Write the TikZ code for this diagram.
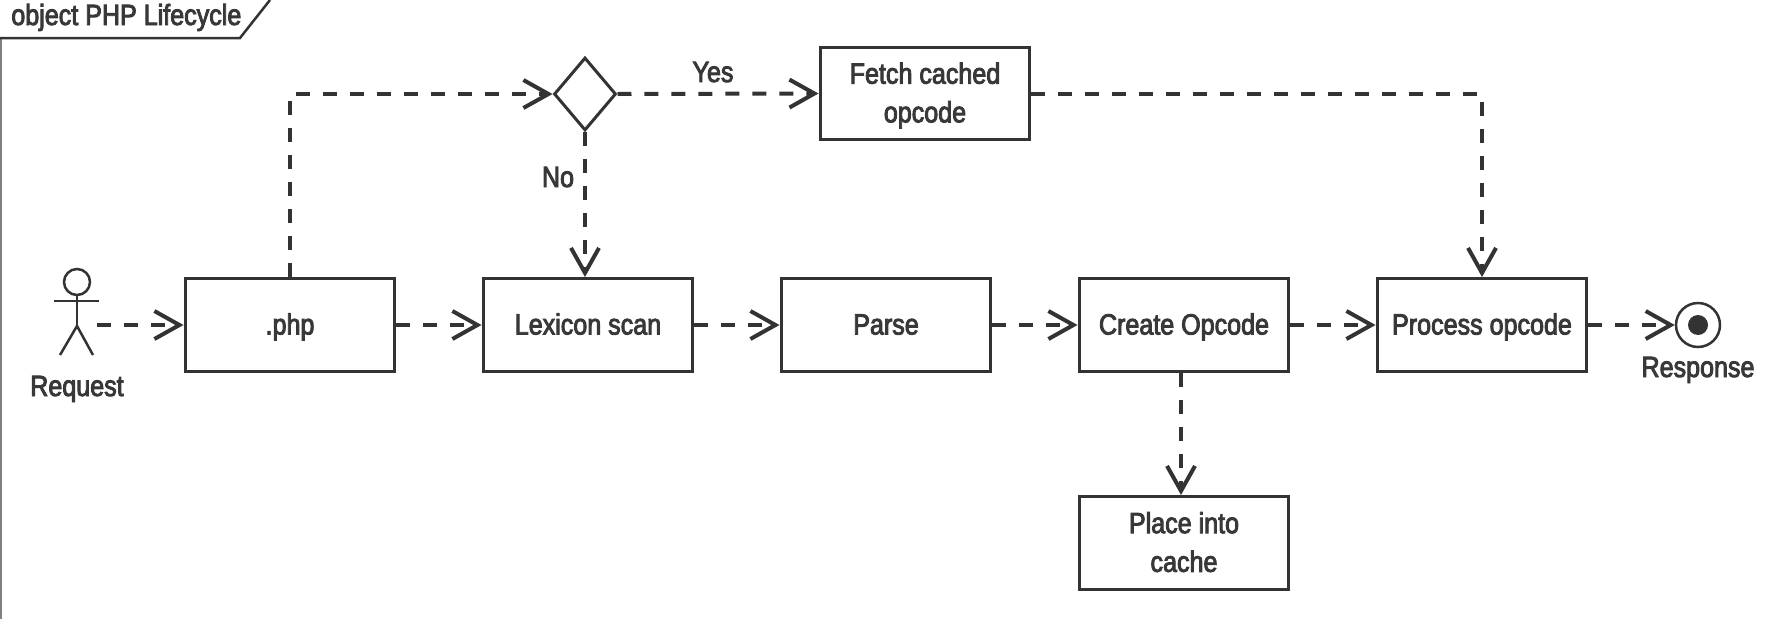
\documentclass[tikz,border=0pt]{standalone}
\usepackage{fontspec}
\setmainfont[FakeStretch=0.86,FakeBold=3]{Liberation Sans}
\usepackage{tikz}
\usetikzlibrary{arrows.meta}
\usetikzlibrary{shapes.geometric}
\definecolor{umlink}{HTML}{333333}
\definecolor{umltext}{HTML}{383838}
\tikzset{
  procbox/.style={draw=umlink, line width=0.06cm, fill=white, minimum width=4.2cm, minimum height=1.86cm, inner sep=0pt, align=center, text=umltext, font=\fontsize{16.6}{22}\selectfont},
  umllabel/.style={inner sep=0pt, text=umltext, font=\fontsize{16.6}{22}\selectfont},
  flow/.style={draw=umlink, line width=0.08cm, dash pattern=on 0.28cm off 0.26cm, -{Straight Barb[length=0.5cm,width=0.56cm,line width=0.08cm]}},
  pen/.style={draw=umlink, line width=0.05cm}
}
\newcommand{\textprop}{\rule[-4.2pt]{0pt}{19.2pt}}
\newcommand{\procstep}[4]{\node[procbox] (#1) at ( #2 , #3 ) {\textprop #4\textprop};}
\begin{document}
\begin{tikzpicture}[x=0.02cm,y=-0.02cm]
        \useasboundingbox (0,0) rectangle (1768,619);
        % frame
        \draw[draw=gray, line width=0.05cm] (1,619) -- (1,38);
        \draw[pen] (0,38) -- (240,38) -- (270,0);
        \node[umllabel, anchor=base west] (title) at (11,25) {object PHP Lifecycle};
        % top row
        \node[draw=umlink, line width=0.06cm, shape=diamond, minimum width=1.24cm, minimum height=1.46cm, inner sep=0pt] (cond) at (585,94) {};
        \procstep{fetch}{925}{93.5}{Fetch cached\\opcode}
        % middle row
        \procstep{php}{290}{325}{.php}
        \procstep{lexicon}{588}{325}{Lexicon scan}
        \procstep{parse}{886}{325}{Parse}
        \procstep{create}{1184}{325}{Create Opcode}
        \procstep{process}{1482}{325}{Process opcode}
        % bottom row
        \procstep{cache}{1184}{543}{Place into\\cache}
        % actor
        \draw[pen] (77,282) circle (13);
        \draw[pen] (54,301) -- (99,301);
        \draw[pen] (77,295) -- (77,326);
        \draw[pen] (60,355) -- (77,326) -- (93,355);
        \coordinate (actor) at (97,325);
        \node[umllabel, anchor=base] (request) at (77,396) {Request};
        % end state
        \node[draw=umlink, line width=0.05cm, shape=circle, minimum size=0.88cm, inner sep=0pt] (final) at (1698,325) {};
        \node[fill=umlink, shape=circle, minimum size=0.4cm, inner sep=0pt] (finaldot) at (final) {};
        \node[umllabel, anchor=base] (response) at (1698,377) {Response};
        % arrows
        \draw[flow] (actor) -- (php);
        \draw[flow] (php) -- (lexicon);
        \draw[flow] (lexicon) -- (parse);
        \draw[flow] (parse) -- (create);
        \draw[flow] (create) -- (process);
        \draw[flow] (process) -- (final);
        \draw[flow] (php.north) |- (cond.west);
        \draw[flow] (cond.east) -- (fetch.west);
        \draw[flow] (cond.south) -- (cond.south |- lexicon.north);
        \draw[flow] (fetch.east) -| (process.north);
        \draw[flow] ([xshift=-0.06cm]create.south) -- ([xshift=-0.06cm]cache.north);
        % branch labels
        \node[umllabel, anchor=base] (yes) at (713,82) {Yes};
        \node[umllabel, anchor=base] (no) at (558,187) {No};
\end{tikzpicture}
\end{document}
